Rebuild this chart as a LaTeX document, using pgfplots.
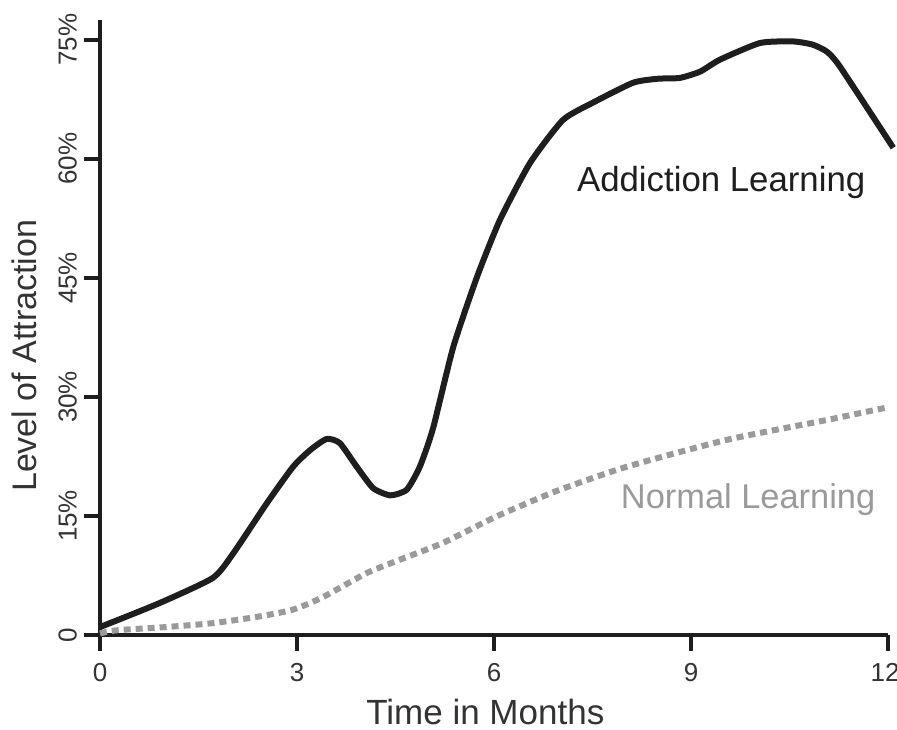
\documentclass[border=0pt]{standalone}
\usepackage{pgfplots}
\pgfplotsset{compat=1.18}
\usepackage{fontspec}
\setmainfont{Liberation Sans}
\definecolor{ink}{HTML}{1E1E1E}
\definecolor{lgray}{HTML}{9A9A9A}
\definecolor{tickgray}{HTML}{333333}
\begin{document}
\begin{tikzpicture}
\begin{axis}[
  scale only axis,
  width=394pt, height=307.5pt,
  xmin=0, xmax=12, ymin=0, ymax=77.5,
  clip=false,
  axis x line=bottom, axis y line=left,
  axis line style={-, line width=2pt, color=ink},
  tick style={line width=2pt, color=ink},
  tick align=outside,
  major tick length=8pt,
  xtick={0,3,6,9,12},
  xticklabels={0,3,6,9,{\kern-3pt 12}},
  ytick={0,15,30,45,60,75},
  yticklabels={0,15\%,30\%,45\%,60\%,75\%},
  /pgf/number format/assume math mode=true,
  ticklabel style={font=\fontsize{13}{15}\selectfont, text=tickgray},
  xticklabel style={yshift=-2.5pt},
  yticklabel style={rotate=90, anchor=south},
  xlabel={Time in Months},
  ylabel={Level of Attraction},
  xlabel style={font=\fontsize{17.5}{20}\selectfont, text=tickgray, at={(axis description cs:0.489,0)}, anchor=base, yshift=-44.5pt},
  ylabel style={font=\fontsize{17}{20}\selectfont, text=tickgray, at={(axis description cs:0,0.454)}, anchor=base, yshift=31.5pt},
]
\coordinate (bl) at (rel axis cs:0,0);
\addplot[lgray, line width=3pt, dash pattern=on 3.5pt off 2.5pt, smooth, tension=0.4] coordinates {
(0,0.2) (0.26,0.6) (1.0,1.0) (1.72,1.5) (2.4,2.3) (2.94,3.2) (3.40,4.8) (4.06,7.8) (4.57,9.5) (5.22,11.6) (6.0,14.8) (6.5,16.6) (7.0,18.3) (8.02,21.2) (9.55,24.6) (11.07,27.1) (12.0,28.7)
};
\addplot[ink, line width=3pt, smooth, tension=0.35, line join=round] coordinates {
(0,1.0) (0.9,4.0) (1.72,7.2) (2.03,10.3) (2.54,16.6) (2.94,21.2) (3.2,23.3) (3.45,24.7) (3.65,24.2) (3.91,21.2) (4.16,18.5) (4.42,17.6) (4.67,18.3) (4.87,21.2) (5.07,26.0) (5.38,36.3) (5.74,45.1) (6.09,52.3) (6.55,59.5) (7.05,64.9) (7.51,67.1) (8.12,69.6) (8.5,70.1) (8.83,70.2) (9.14,71.0) (9.44,72.5) (10.05,74.6) (10.55,74.8) (10.85,74.4) (11.07,73.5) (11.27,71.6) (12.08,61.4)
};
\node[font=\fontsize{17.4}{20}\selectfont, text=ink] at (axis cs:9.46,57.0) {Addiction Learning};
\node[font=\fontsize{17.2}{20}\selectfont, text=lgray] at (axis cs:9.87,17.0) {Normal Learning};
\end{axis}
\pgfresetboundingbox
\path[use as bounding box] ([shift={(-50pt,-47pt)}]bl) rectangle ([shift={(398.5pt,317.5pt)}]bl);
\end{tikzpicture}
\end{document}
